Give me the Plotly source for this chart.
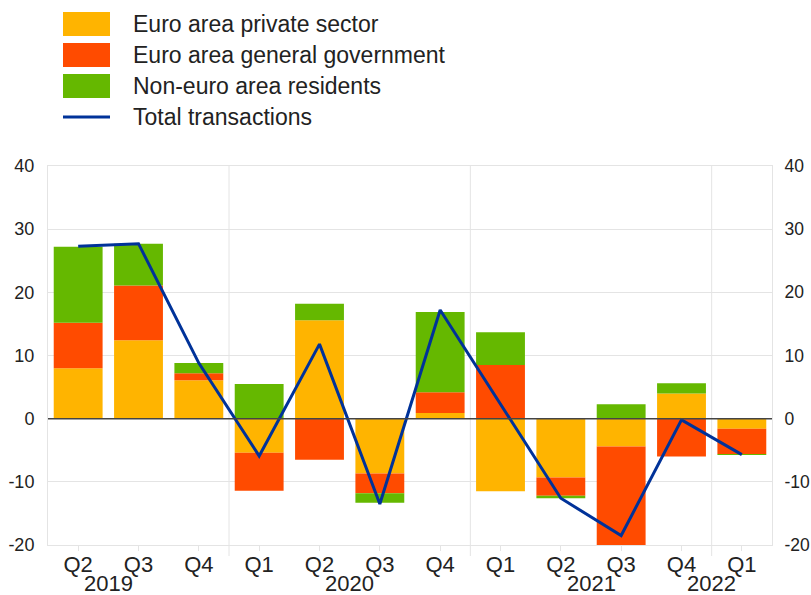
import plotly.graph_objects as go

# ---- data ----
categories = ["2019 Q2", "2019 Q3", "2019 Q4", "2020 Q1", "2020 Q2", "2020 Q3",
              "2020 Q4", "2021 Q1", "2021 Q2", "2021 Q3", "2021 Q4", "2022 Q1"]
tick_labels = ["Q2", "Q3", "Q4", "Q1", "Q2", "Q3", "Q4", "Q1", "Q2", "Q3", "Q4", "Q1"]
year_labels = ["2019", "2020", "2021", "2022"]
year_label_pos = [0.5, 4.5, 8.5, 10.5]
year_dividers = [2.5, 6.5, 10.5]

private_sector = [8.0, 12.4, 6.1, -5.4, 15.6, -8.7, 0.9, -11.5, -9.3, -4.4, 4.0, -1.6]
general_government = [7.2, 8.7, 1.1, -6.0, -6.5, -3.1, 3.3, 8.5, -2.9, -16.4, -6.0, -4.0]
non_euro_residents = [12.0, 6.6, 1.6, 5.5, 2.6, -1.5, 12.7, 5.2, -0.4, 2.3, 1.6, -0.15]
total_transactions = [27.3, 27.7, 8.8, -5.9, 11.8, -13.5, 17.2, 2.2, -12.6, -18.5, -0.2, -5.7]

y_tick_values = [-20, -10, 0, 10, 20, 30, 40]
y_tick_labels = ["-20", "-10", "0", "10", "20", "30", "40"]

series_names = ["Euro area private sector", "Euro area general government",
                "Non-euro area residents", "Total transactions"]
colors = ["#FFB400", "#FF4B00", "#65B800", "#003299"]

# ---- geometry helpers (pixels -> paper) ----
W, H = 811, 595
ML, MR, MT, MB = 48, 39, 166, 50
PW, PH = W - ML - MR, H - MT - MB


def px_x(px):
    return (px - ML) / PW


def px_y(py):
    return (H - MB - py) / PH


FONT = "Liberation Sans, Arial, sans-serif"
TXT = "#222222"
GRID = "#e4e4e4"

fig = go.Figure()
for vals, name, col in zip([private_sector, general_government, non_euro_residents],
                           series_names[:3], colors[:3]):
    fig.add_trace(go.Bar(x=categories, y=vals, name=name, marker_color=col,
                         marker_line_width=0, showlegend=False))

fig.add_trace(go.Scatter(x=categories, y=total_transactions, name=series_names[3],
                         mode="lines", line=dict(color=colors[3], width=3),
                         showlegend=False))
# invisible trace to anchor right axis
fig.add_trace(go.Scatter(x=categories, y=total_transactions, yaxis="y2", mode="lines",
                         line=dict(width=0), opacity=0, showlegend=False, hoverinfo="skip"))

shapes = []
annotations = []

# zero line above bars
shapes.append(dict(type="line", xref="paper", yref="y", x0=0, x1=1, y0=0, y1=0,
                   line=dict(color="#444444", width=1.5), layer="above"))
# year dividers
for d in year_dividers:
    shapes.append(dict(type="line", xref="x", yref="paper", x0=d, x1=d,
                       y0=px_y(556), y1=1, line=dict(color=GRID, width=1), layer="below"))

# year labels
for lab, pos in zip(year_labels, year_label_pos):
    annotations.append(dict(x=pos, y=px_y(583), xref="x", yref="paper", text=lab,
                            showarrow=False, xanchor="center", yanchor="middle",
                            font=dict(size=22, color=TXT, family=FONT)))

# manual legend
row_y = [24, 55, 86, 117]
for i, (name, col) in enumerate(zip(series_names, colors)):
    cy = row_y[i]
    if i < 3:
        shapes.append(dict(type="rect", xref="paper", yref="paper",
                           x0=px_x(63), x1=px_x(110), y0=px_y(cy - 12), y1=px_y(cy + 12),
                           fillcolor=col, line=dict(width=0)))
    else:
        shapes.append(dict(type="line", xref="paper", yref="paper",
                           x0=px_x(63), x1=px_x(110), y0=px_y(cy), y1=px_y(cy),
                           line=dict(color=col, width=3)))
    annotations.append(dict(x=px_x(131), y=px_y(cy), xref="paper", yref="paper",
                            text=name, showarrow=False, xanchor="left", yanchor="middle",
                            font=dict(size=23, color=TXT, family=FONT)))

fig.update_layout(
    width=W, height=H,
    margin=dict(l=ML, r=MR, t=MT, b=MB, pad=0, autoexpand=False),
    paper_bgcolor="white", plot_bgcolor="white",
    barmode="relative", bargap=0.19,
    font=dict(family=FONT, color=TXT),
    shapes=shapes, annotations=annotations,
    xaxis=dict(type="category", tickmode="array", tickvals=categories, ticktext=tick_labels,
               tickfont=dict(size=22, color=TXT), showgrid=False,
               ticks="outside", ticklen=5, tickcolor=GRID, ticklabelstandoff=-5,
               showline=True, linecolor=GRID, linewidth=1, mirror=True,
               range=[-0.5, 11.5], automargin=False),
    yaxis=dict(range=[-20, 40], tickmode="array", tickvals=y_tick_values,
               ticktext=y_tick_labels, tickfont=dict(size=18, color=TXT),
               showgrid=True, gridcolor=GRID, gridwidth=1, zeroline=False,
               ticks="outside", ticklen=9, tickcolor="rgba(0,0,0,0)",
               showline=True, linecolor=GRID, linewidth=1, mirror=True, automargin=False),
    yaxis2=dict(range=[-20, 40], tickmode="array", tickvals=y_tick_values,
                ticktext=y_tick_labels, tickfont=dict(size=17.5, color=TXT),
                overlaying="y", side="right", showgrid=False, zeroline=False,
                ticks="outside", ticklen=8, tickcolor="rgba(0,0,0,0)", automargin=False),
    hovermode=False,
)

fig.write_html("out.html")
